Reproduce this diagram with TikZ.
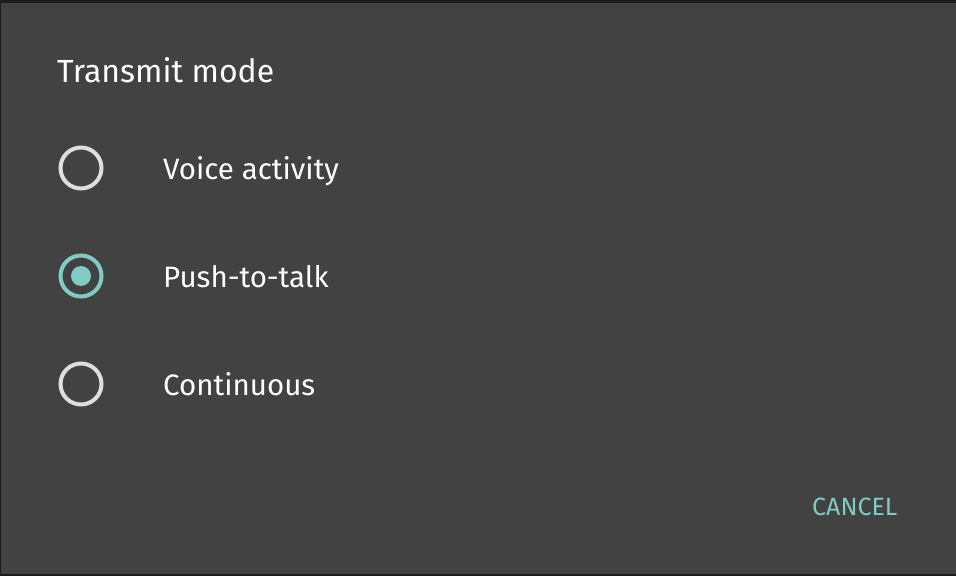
\documentclass[tikz,border=0pt]{standalone}
\usepackage{fontspec}
\setmainfont{Fira Sans}
\usepackage{tikz}
\usetikzlibrary{positioning}
\definecolor{dlgbg}{HTML}{424242}
\definecolor{dlgedge}{HTML}{1C1C1C}
\definecolor{radiogray}{HTML}{DEDEDE}
\definecolor{accent}{HTML}{80CBC4}
\tikzstyle{radio} = [circle, draw=radiogray, line width=4pt, minimum size=41pt, inner sep=0pt]
\tikzstyle{radioon} = [radio, draw=accent]
\tikzstyle{dot} = [circle, fill=accent, minimum size=20pt, inner sep=0pt]
\tikzstyle{option} = [anchor=base west, inner sep=0pt, text=white, font=\fontsize{29.5}{36}\selectfont]
\begin{document}
\begin{tikzpicture}[x=1pt,y=1pt]
                        \fill[dlgedge] (0,0) rectangle (956,576);
                        \fill[dlgbg] (1,2) rectangle (956,573);
                        \useasboundingbox (0,0) rectangle (956,576);
                        \node[anchor=base west, inner sep=0pt, text=white, font=\fontsize{32}{40}\selectfont] (title) at (57,493) {Transmit mode};
                        \node[radio] (rVoice) at (81,408) {};
                        \node[radioon] (rPtt) at (81,300) {};
                        \node[dot] (rPttDot) at (rPtt) {};
                        \node[radio] (rCont) at (81,192) {};
                        \node[option] (voice) at (163,396) {Voice activity};
                        \node[option] (ptt) at (163,288) {Push-to-talk};
                        \node[option] (cont) at (163,180) {Continuous};
                        \node[anchor=base west, inner sep=0pt, text=accent, font=\fontsize{25}{30}\selectfont] (cancel) at (812,61) {CANCEL};
                    \end{tikzpicture}
\end{document}
